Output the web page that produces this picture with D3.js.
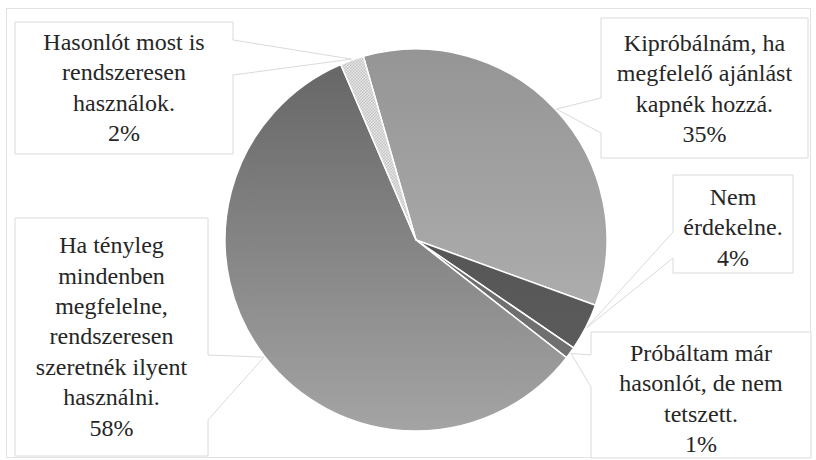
<!DOCTYPE html>
<html><head><meta charset="utf-8">
<script src="https://cdn.jsdelivr.net/npm/d3@7"></script>
<style>body{margin:0;background:#fff}svg{display:block}
.lbl{font-family:"Liberation Serif","DejaVu Serif","Noto Serif","Times New Roman",Times,serif;}</style>
</head><body><svg id="c" width="816" height="460"></svg>
<script>
const categories = [
  "Kipróbálnám, ha megfelelő ajánlást kapnék hozzá.",
  "Nem érdekelne.",
  "Próbáltam már hasonlót, de nem tetszett.",
  "Ha tényleg mindenben megfelelne, rendszeresen szeretnék ilyent használni.",
  "Hasonlót most is rendszeresen használok."
];
const values = [35, 4, 1, 58, 2];
const labelLines = [
  ["Kipróbálnám, ha", "megfelelő ajánlást", "kapnék hozzá."],
  ["Nem", "érdekelne."],
  ["Próbáltam már", "hasonlót, de nem", "tetszett."],
  ["Ha tényleg", "mindenben", "megfelelne,", "rendszeresen", "szeretnék ilyent", "használni."],
  ["Hasonlót most is", "rendszeresen", "használok."]
];

// layout (not data)
const W = 816, H = 460, cx = 416, cy = 240, R = 191;
const layout = [
  {box:[601,18,808,158], tcy:88, tail:{side:"left", y1:98, y2:133}},
  {box:[673,175,793,273], tcy:227, tail:{side:"left", y1:232, y2:258}},
  {box:[591,332,811,458], tcy:398, tail:{side:"left", y1:355, y2:387}},
  {box:[15,218,208,456], tcy:336, tail:{side:"right", y1:355, y2:420}},
  {box:[15,22,233,154], tcy:87, tail:{side:"right", y1:40, y2:75}}
];
const gradStops = [
  ["#959595", "#b8b8b8"],
  ["#4e4e4e", "#5e5e5e"],
  ["#666666", "#737373"],
  ["#646464", "#a4a4a4"],
  null
];

const svg = d3.select("#c");
svg.append("rect").attr("x",6.5).attr("y",8.5).attr("width",804).attr("height",449)
  .attr("fill","#fff").attr("stroke","#e2e2e2");

const defs = svg.append("defs");
gradStops.forEach((g,i)=>{
  if(!g) return;
  const lg = defs.append("linearGradient").attr("id","grad"+i)
    .attr("gradientUnits","userSpaceOnUse").attr("x1",0).attr("x2",0)
    .attr("y1",-R).attr("y2",R);
  lg.append("stop").attr("offset","0%").attr("stop-color",g[0]);
  lg.append("stop").attr("offset","100%").attr("stop-color",g[1]);
});
const pat = defs.append("pattern").attr("id","dots").attr("patternUnits","userSpaceOnUse")
  .attr("width",3).attr("height",3);
pat.append("rect").attr("width",3).attr("height",3).attr("fill","#c4c4c4");
pat.append("rect").attr("width",1.5).attr("height",1.5).attr("fill","#e8e8e8");
pat.append("rect").attr("x",1.5).attr("y",1.5).attr("width",1.5).attr("height",1.5).attr("fill","#e8e8e8");

const deg = Math.PI/180;
const pie = d3.pie().sort(null).value(d=>d).startAngle(-16*deg).endAngle(344*deg);
const arcs = pie(values);
const arc = d3.arc().innerRadius(0).outerRadius(R);

const g = svg.append("g").attr("transform",`translate(${cx},${cy})`);
g.selectAll("path").data(arcs).join("path")
  .attr("d",arc)
  .attr("fill",(d,i)=> i===4 ? "url(#dots)" : `url(#grad${i})`)
  .attr("stroke","#fff").attr("stroke-width",1.5).attr("stroke-linejoin","round");

// callouts
const lab = svg.append("g");
arcs.forEach((a,i)=>{
  const L = layout[i];
  const [x0,y0,x1,y1] = L.box;
  const m = (a.startAngle+a.endAngle)/2;
  const ax = cx + (R+1)*Math.sin(m), ay = cy - (R+1)*Math.cos(m);
  let p;
  if(L.tail.side==="left"){
    p = `M${x0},${y0}H${x1}V${y1}H${x0}V${L.tail.y2}L${ax},${ay}L${x0},${L.tail.y1}Z`;
  } else {
    p = `M${x0},${y0}H${x1}V${L.tail.y1}L${ax},${ay}L${x1},${L.tail.y2}V${y1}H${x0}Z`;
  }
  lab.append("path").attr("d",p).attr("fill","#fff").attr("stroke","#dadada").attr("stroke-width",1);
  const lines = labelLines[i].concat([d3.format(".0%")(values[i]/d3.sum(values))]);
  const lh = 30.4;
  const tcx = (x0+x1)/2;
  const t = lab.append("text").attr("class","lbl")
    .attr("font-size",24).attr("fill","#262626").attr("text-anchor","middle");
  lines.forEach((s,k)=>{
    t.append("tspan").attr("x",tcx)
      .attr("y", L.tcy + (k-(lines.length-1)/2)*lh).attr("dy","0.35em").text(s);
  });
});
</script></body></html>
